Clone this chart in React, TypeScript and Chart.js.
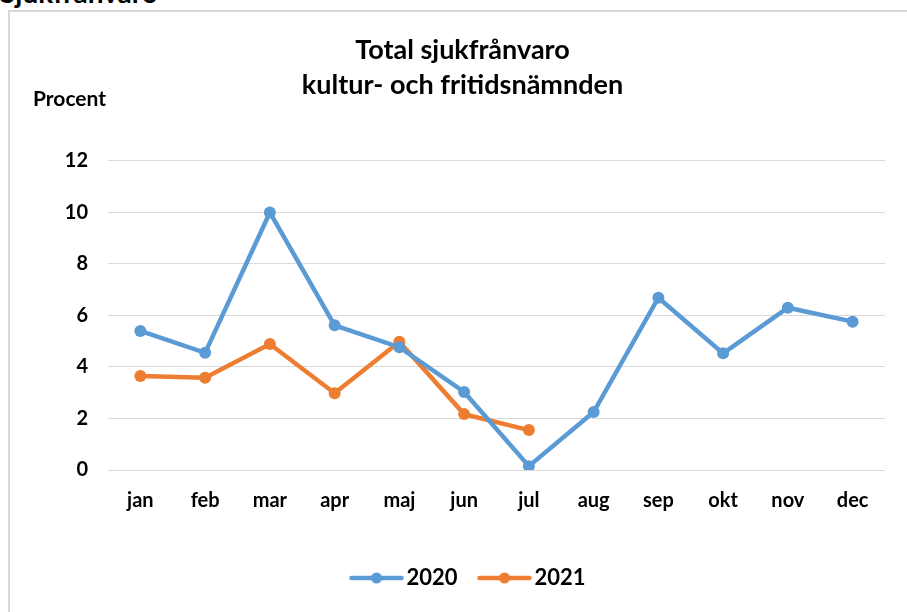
import React, { useEffect, useRef } from "react";
import { Chart, registerables } from "chart.js";

Chart.register(...registerables);

const months = ["jan", "feb", "mar", "apr", "maj", "jun", "jul", "aug", "sep", "okt", "nov", "dec"];
const values2020 = [5.4, 4.55, 10.0, 5.62, 4.77, 3.03, 0.15, 2.25, 6.69, 4.53, 6.3, 5.76];
const values2021 = [3.65, 3.58, 4.89, 2.98, 4.98, 2.17, 1.55];
const titleLines = ["Total sjukfrånvaro", "kultur- och fritidsnämnden"];
const yTicks = [0, 2, 4, 6, 8, 10, 12];

const BLUE = "#5B9BD5";
const ORANGE = "#ED7D31";
const FONT = "Lato, 'Open Sans', sans-serif";

// Legend marker: a line with a dot, drawn in the right part of a wider image
function legendImage(color: string): HTMLCanvasElement {
  const shift = 9;
  const c = document.createElement("canvas");
  c.width = 56 + 2 * shift;
  c.height = 14;
  const ctx = c.getContext("2d")!;
  const x0 = 2 * shift;
  ctx.strokeStyle = color;
  ctx.lineWidth = 4.5;
  ctx.lineCap = "round";
  ctx.beginPath();
  ctx.moveTo(x0 + 3, 7);
  ctx.lineTo(x0 + 53, 7);
  ctx.stroke();
  ctx.fillStyle = color;
  ctx.beginPath();
  ctx.arc(x0 + 28, 7, 5.5, 0, Math.PI * 2);
  ctx.fill();
  return c;
}

export default function App() {
  const ref = useRef<HTMLCanvasElement>(null);

  useEffect(() => {
    if (!ref.current) return;
    const imgs = [legendImage(BLUE), legendImage(ORANGE)];
    const chart = new Chart(ref.current, {
      type: "line",
      data: {
        labels: months,
        datasets: [
          {
            label: "2020",
            data: values2020,
            borderColor: BLUE,
            backgroundColor: BLUE,
            borderWidth: 4.5,
            pointRadius: 6,
            pointHoverRadius: 6,
            pointBorderWidth: 0,
            tension: 0,
          },
          {
            label: "2021",
            data: values2021,
            borderColor: ORANGE,
            backgroundColor: ORANGE,
            borderWidth: 4.5,
            pointRadius: 6,
            pointHoverRadius: 6,
            pointBorderWidth: 0,
            tension: 0,
          },
        ],
      },
      options: {
        animation: false,
        responsive: false,
        maintainAspectRatio: false,
        layout: { padding: { left: 40, right: 22, top: 33, bottom: 13 } },
        plugins: {
          title: {
            display: true,
            text: titleLines,
            color: "#000",
            font: { family: FONT, size: 27, weight: "bold", lineHeight: 1.296 },
            padding: { top: 0, bottom: 58 },
          },
          legend: {
            position: "bottom",
            labels: {
              color: "#000",
              font: { family: FONT, size: 22, weight: "bold" },
              usePointStyle: true,
              pointStyleWidth: 56,
              padding: 10,
              generateLabels: (ch: any) =>
                ch.data.datasets.map((ds: any, i: number) => ({
                  text: ds.label,
                  fillStyle: ds.borderColor,
                  strokeStyle: ds.borderColor,
                  pointStyle: imgs[i],
                  datasetIndex: i,
                  hidden: false,
                  lineWidth: 0,
                  fontColor: "#000",
                })),
            },
          },
          tooltip: { enabled: false },
        },
        scales: {
          x: {
            offset: true,
            grid: { display: false, drawTicks: false },
            border: { display: false },
            ticks: {
              color: "#000",
              font: { family: FONT, size: 20, weight: "bold" },
              padding: 19,
              maxRotation: 0,
              autoSkip: false,
            },
            afterFit: (s: any) => {
              s.height = 87;
            },
          },
          y: {
            min: 0,
            max: 12,
            afterBuildTicks: (s: any) => {
              s.ticks = yTicks.map((v) => ({ value: v }));
            },
            grid: { color: "#d9d9d9", lineWidth: 1, drawTicks: false },
            border: { display: false },
            ticks: {
              color: "#000",
              font: { family: FONT, size: 20, weight: "bold" },
              padding: 20,
            },
            afterFit: (s: any) => {
              s.width = 68;
            },
          },
        },
      },
    });
    return () => chart.destroy();
  }, []);

  return (
    <div
      style={{
        position: "fixed",
        left: 0,
        top: 0,
        width: 907,
        height: 612,
        background: "#fff",
        overflow: "hidden",
      }}
    >
      <div
        style={{
          position: "absolute",
          left: 0,
          top: -22,
          fontFamily: FONT,
          fontWeight: "bold",
          fontSize: 28,
          lineHeight: "28px",
          color: "#000",
          whiteSpace: "nowrap",
        }}
      >
        Sjukfrånvaro
      </div>
      <div
        style={{
          position: "absolute",
          left: 8,
          top: 10,
          width: 1000,
          height: 800,
          border: "2px solid #d9d9d9",
          boxSizing: "border-box",
        }}
      />
      <canvas ref={ref} width={907} height={612} style={{ position: "absolute", left: 0, top: 0 }} />
      <div
        style={{
          position: "absolute",
          left: 33,
          top: 87,
          fontFamily: FONT,
          fontWeight: "bold",
          fontSize: 21,
          lineHeight: "22px",
          color: "#000",
          whiteSpace: "nowrap",
        }}
      >
        Procent
      </div>
    </div>
  );
}
